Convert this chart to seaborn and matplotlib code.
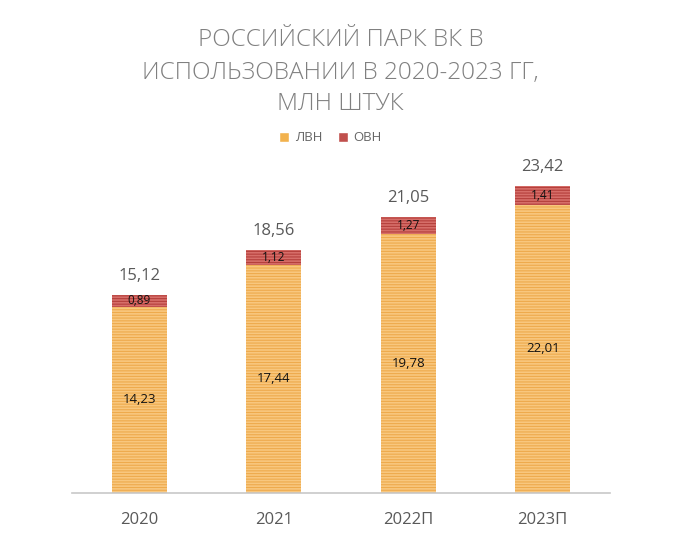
import numpy as np
import pandas as pd
import matplotlib
matplotlib.use('Agg')
import matplotlib.pyplot as plt
import seaborn as sns
from matplotlib.patches import Patch

# данные
years = ['2020', '2021', '2022П', '2023П']
lvn = [14.23, 17.44, 19.78, 22.01]
ovn = [0.89, 1.12, 1.27, 1.41]
totals = [15.12, 18.56, 21.05, 23.42]
title_lines = ['РОССИЙСКИЙ ПАРК ВК В', 'ИСПОЛЬЗОВАНИИ В 2020-2023 ГГ,', 'МЛН ШТУК']

sns.set_style('white')
plt.rcParams['font.family'] = ['Open Sans', 'DejaVu Sans']
plt.rcParams['hatch.linewidth'] = 0.8

df = pd.DataFrame({'year': years, 'lvn': lvn, 'ovn': ovn})
df['total'] = df['lvn'] + df['ovn']

fig = plt.figure(figsize=(6.81, 5.41), dpi=100)
ax = fig.add_axes([0.1057, 0.0887, 0.79, 0.605])

orange, orange_h = '#F8C77E', '#EEAA4C'
red, red_h = '#D66E69', '#B5403C'

sns.barplot(data=df, x='year', y='total', color=red, width=0.41,
            saturation=1, ax=ax)
n_top = len(ax.patches)
sns.barplot(data=df, x='year', y='lvn', color=orange, width=0.41,
            saturation=1, ax=ax)

for i, p in enumerate(ax.patches):
    p.set_linewidth(0)
    if i < n_top:
        p.set_edgecolor(red_h)
    else:
        p.set_edgecolor(orange_h)
    p.set_hatch('------')

# подписи
for i in range(len(years)):
    ax.text(i, lvn[i] / 2, f'{lvn[i]:.2f}'.replace('.', ','), ha='center',
            va='center', fontsize=9.5, color='#111111')
    ax.text(i, lvn[i] + ovn[i] / 2, f'{ovn[i]:.2f}'.replace('.', ','),
            ha='center', va='center', fontsize=8.5, color='#111111')
    ax.text(i, totals[i] + 0.85, f'{totals[i]:.2f}'.replace('.', ','),
            ha='center', va='bottom', fontsize=12, color='#595959')

ax.set_ylim(0, 25)
ax.set_xlim(-0.5, 3.5)
ax.set_xlabel('')
ax.set_ylabel('')
ax.set_yticks([])
ax.tick_params(axis='x', length=0, labelsize=12, labelcolor='#595959', pad=14)
for s in ['top', 'right', 'left']:
    ax.spines[s].set_visible(False)
ax.spines['bottom'].set_color('#c8c8c8')
ax.spines['bottom'].set_linewidth(1.2)

# заголовок
title_y = [1 - 40 / 541, 1 - 73 / 541, 1 - 104 / 541]
for line, y in zip(title_lines, title_y):
    fig.text(0.5, y, line, ha='center', va='center', fontsize=17.5,
             color='#808080', fontweight='light')

handles = [Patch(facecolor='#F2B24E', label='ЛВН'),
           Patch(facecolor='#C0504D', label='ОВН')]
fig.legend(handles=handles, loc='center', bbox_to_anchor=(0.485, 0.745),
           ncol=2, frameon=False, fontsize=9.5, handlelength=0.75,
           handleheight=0.75, handletextpad=0.4, columnspacing=1.2,
           labelcolor='#666666')

fig.savefig('out.png', dpi=100)
